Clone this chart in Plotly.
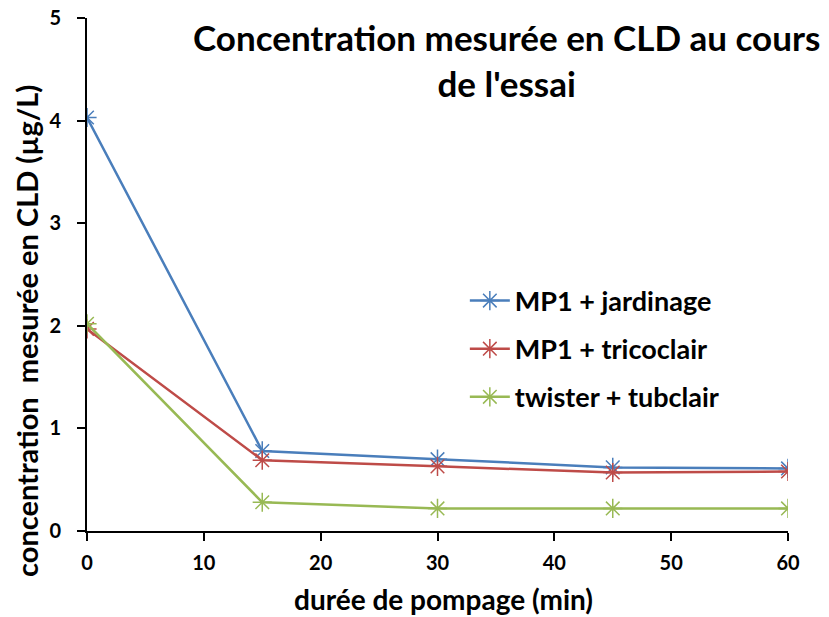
import plotly.graph_objects as go

# Data
duree_min = [0, 15, 30, 45, 60]
mp1_jardinage = [4.03, 0.78, 0.70, 0.62, 0.61]
mp1_tricoclair = [1.97, 0.69, 0.63, 0.57, 0.58]
twister_tubclair = [2.02, 0.28, 0.22, 0.22, 0.22]

x_ticks = [0, 10, 20, 30, 40, 50, 60]
y_ticks = [0, 1, 2, 3, 4, 5]

series = [
    ("MP1 + jardinage", mp1_jardinage, "#4A7EBB"),
    ("MP1 + tricoclair", mp1_tricoclair, "#BE4B48"),
    ("twister + tubclair", twister_tubclair, "#98B954"),
]

FONT = "Lato"

fig = go.Figure()
for name, values, color in series:
    fig.add_scatter(
        x=duree_min,
        y=values,
        name="<b>%s</b>" % name,
        legendgroup=name,
        mode="lines+markers",
        line=dict(color=color, width=2.5),
        marker=dict(symbol="asterisk-open", size=16, line=dict(color=color, width=1.5)),
    )

# the page body adds an 8px margin, so the figure is 8px smaller than the window
fig.update_layout(
    width=821,
    height=609,
    paper_bgcolor="white",
    plot_bgcolor="white",
    margin=dict(l=79, r=41, t=10, b=86, autoexpand=False),
    font=dict(family=FONT, color="black"),
    legend=dict(
        x=0.539,
        y=0.496,
        xanchor="left",
        yanchor="top",
        font=dict(family=FONT, size=27, color="black"),
        tracegroupgap=10,
        itemwidth=40,
        bgcolor="rgba(0,0,0,0)",
    ),
)

# chart title
fig.add_annotation(
    text="<b>Concentration mesurée en CLD au cours<br>de l'essai</b>",
    xref="paper", yref="paper",
    x=0.598, y=0.918,
    xanchor="center", yanchor="middle",
    showarrow=False,
    font=dict(family=FONT, size=35, color="black"),
)
# axis titles (placed like the original, a bit off-centre)
fig.add_annotation(
    text="<b>concentration  mesurée en CLD (µg/L)</b>",
    xref="paper", yref="paper",
    x=-0.0855, y=0.39,
    xanchor="center", yanchor="middle",
    textangle=-90,
    showarrow=False,
    font=dict(family=FONT, size=29, color="black"),
)
fig.add_annotation(
    text="<b>durée de pompage (min)</b>",
    xref="paper", yref="paper",
    x=0.508, y=-0.132,
    xanchor="center", yanchor="middle",
    showarrow=False,
    font=dict(family=FONT, size=28, color="black"),
)

axis_style = dict(
    showline=True,
    linecolor="black",
    linewidth=2,
    ticks="outside",
    ticklen=8,
    tickwidth=2,
    tickcolor="black",
    showgrid=False,
    zeroline=False,
    automargin=False,
    ticklabeloverflow="allow",
    tickfont=dict(size=20),
)
fig.update_xaxes(
    range=[0, 60],
    tickvals=x_ticks,
    ticktext=["<b>%d</b>" % v for v in x_ticks],
    ticklabelstandoff=5,
    **axis_style,
)
fig.update_yaxes(
    range=[0, 5],
    tickvals=y_ticks,
    ticktext=["<b>%d</b>" % v for v in y_ticks],
    ticklabelstandoff=12,
    **axis_style,
)

fig.write_html("out.html")
